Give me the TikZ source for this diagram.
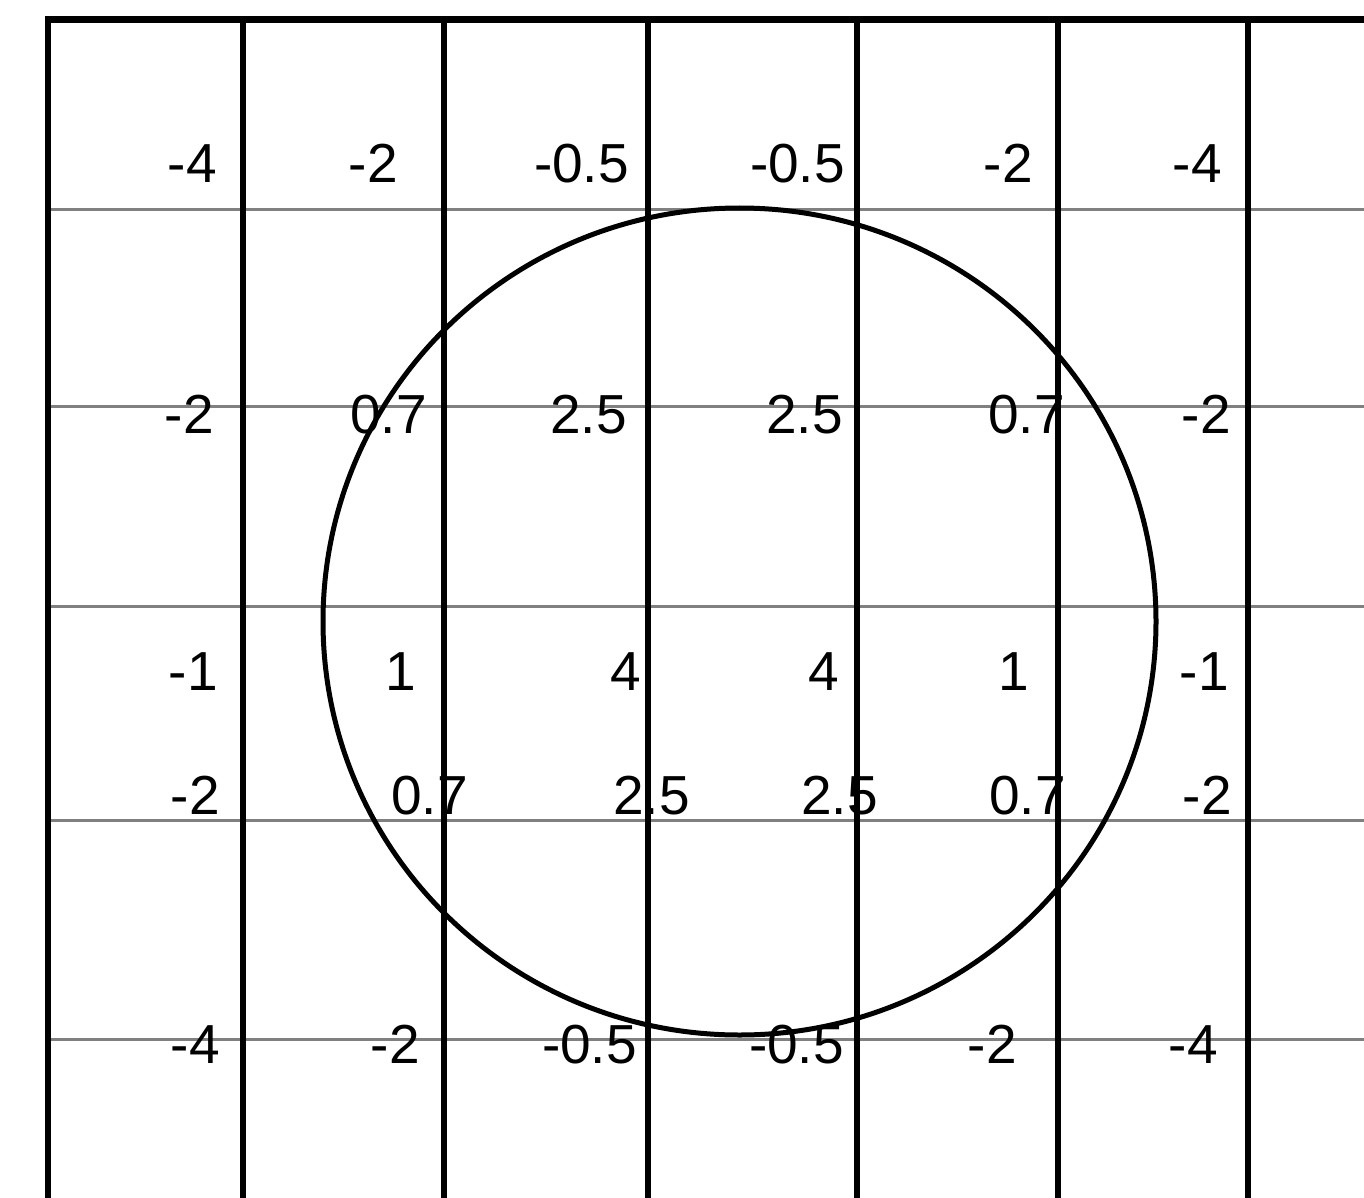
\documentclass[tikz,border=0pt]{standalone}
\usepackage{fontspec}
\setmainfont{Liberation Sans}
\begin{document}
\begin{tikzpicture}[x=1pt,y=-1pt,
  lbl/.style={anchor=base east, inner sep=0pt, font=\fontsize{55}{60}\selectfont},
  gridgray/.style={draw=black!50, line width=3pt},
  gridblack/.style={draw=black, line width=6.5pt},
  ring/.style={draw=black, line width=5pt}]
\useasboundingbox[fill=white] (0,0) rectangle (1364,1198);
% gray horizontal lines
\foreach \yy in {210,406,606,820,1039}
  \draw[gridgray] (48,\yy) -- (1364,\yy);
% black vertical lines
\foreach \xx in {48,243,444,648,857,1058,1248}
  \draw[gridblack] (\xx,17) -- (\xx,1198);
% top border
\draw[gridblack, line width=7pt] (45,20) -- (1364,20);
% circle
\draw[ring] (739.5,621.5) ellipse [x radius=416.5, y radius=413.5];
% row 1
\node[lbl] (r1c1) at (217,183) {-4};
\node[lbl] (r1c2) at (398,183) {-2};
\node[lbl] (r1c3) at (629,183) {-0.5};
\node[lbl] (r1c4) at (845,183) {-0.5};
\node[lbl] (r1c5) at (1033,183) {-2};
\node[lbl] (r1c6) at (1222,183) {-4};
% row 2
\node[lbl] (r2c1) at (214,433) {-2};
\node[lbl] (r2c2) at (427,433) {0.7};
\node[lbl] (r2c3) at (627,433) {2.5};
\node[lbl] (r2c4) at (843,433) {2.5};
\node[lbl] (r2c5) at (1065,433) {0.7};
\node[lbl] (r2c6) at (1231,433) {-2};
% row 3
\node[lbl] (r3c1) at (218,690) {-1};
\node[lbl] (r3c2) at (416,690) {1};
\node[lbl] (r3c3) at (641,690) {4};
\node[lbl] (r3c4) at (839,690) {4};
\node[lbl] (r3c5) at (1029,690) {1};
\node[lbl] (r3c6) at (1229,690) {-1};
% row 4
\node[lbl] (r4c1) at (220,814) {-2};
\node[lbl] (r4c2) at (468,814) {0.7};
\node[lbl] (r4c3) at (690,814) {2.5};
\node[lbl] (r4c4) at (878,814) {2.5};
\node[lbl] (r4c5) at (1066,814) {0.7};
\node[lbl] (r4c6) at (1232,814) {-2};
% row 5
\node[lbl] (r5c1) at (220,1063) {-4};
\node[lbl] (r5c2) at (420,1063) {-2};
\node[lbl] (r5c3) at (637,1063) {-0.5};
\node[lbl] (r5c4) at (844,1063) {-0.5};
\node[lbl] (r5c5) at (1017,1063) {-2};
\node[lbl] (r5c6) at (1218,1063) {-4};
\end{tikzpicture}
\end{document}
